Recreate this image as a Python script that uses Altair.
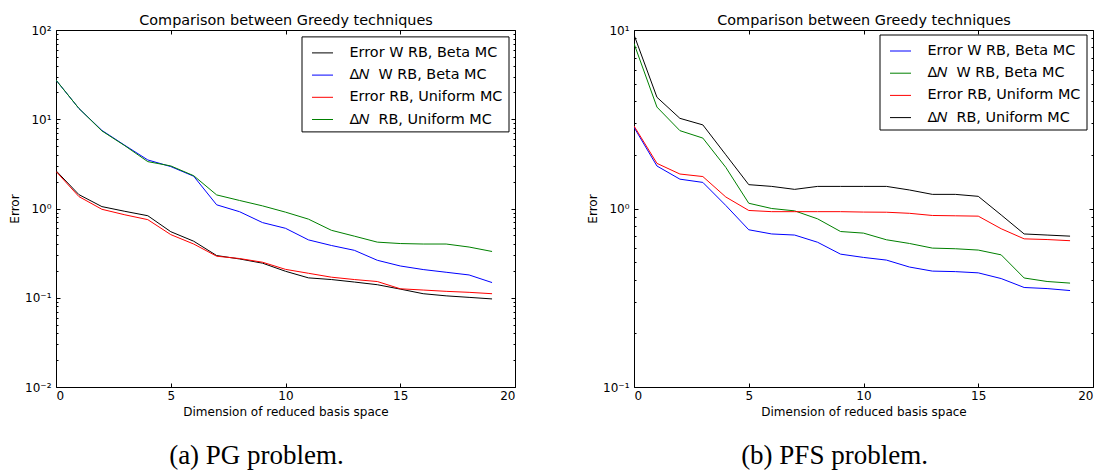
import altair as alt
import pandas as pd

dims = list(range(20))

# (a) PG problem
pg_names = ["Error W RB, Beta MC", "Δ𝑁\u00a0 W RB, Beta MC", "Error RB, Uniform MC", "Δ𝑁\u00a0 RB, Uniform MC"]
pg_colors = ["#000000", "#0000ff", "#ff0000", "#008000"]
pg_err_w_beta = [2.65, 1.43, 1.05, 0.93, 0.83, 0.55, 0.43, 0.297, 0.272, 0.244,
                 0.198, 0.167, 0.16, 0.15, 0.14, 0.125, 0.111, 0.105, 0.101, 0.097]
pg_delta_w_beta = [27.5, 13.2, 7.5, 5.1, 3.5, 2.95, 2.3, 1.1, 0.92, 0.695,
                   0.60, 0.445, 0.385, 0.34, 0.263, 0.227, 0.207, 0.193, 0.18, 0.148]
pg_err_uniform = [2.6, 1.36, 0.98, 0.85, 0.75, 0.51, 0.40, 0.292, 0.275, 0.25,
                  0.208, 0.188, 0.17, 0.16, 0.152, 0.126, 0.122, 0.118, 0.115, 0.111]
pg_delta_uniform = [27.5, 13.2, 7.4, 5.05, 3.35, 3.0, 2.33, 1.42, 1.23, 1.07,
                    0.91, 0.76, 0.57, 0.49, 0.42, 0.405, 0.40, 0.40, 0.37, 0.33]

# (b) PFS problem
pfs_names = ["Error W RB, Beta MC", "Δ𝑁\u00a0 W RB, Beta MC", "Error RB, Uniform MC", "Δ𝑁\u00a0 RB, Uniform MC"]
pfs_colors = ["#0000ff", "#008000", "#ff0000", "#000000"]
pfs_err_w_beta = [2.85, 1.73, 1.46, 1.40, 1.04, 0.76, 0.72, 0.71, 0.647, 0.555,
                  0.532, 0.514, 0.47, 0.446, 0.443, 0.436, 0.405, 0.361, 0.356, 0.347]
pfs_delta_w_beta = [8.4, 3.7, 2.73, 2.48, 1.70, 1.07, 1.0, 0.97, 0.875, 0.743,
                    0.728, 0.668, 0.637, 0.60, 0.595, 0.585, 0.55, 0.408, 0.39, 0.382]
pfs_err_uniform = [2.9, 1.79, 1.56, 1.51, 1.16, 0.975, 0.96, 0.96, 0.96, 0.96,
                   0.955, 0.953, 0.94, 0.914, 0.91, 0.906, 0.77, 0.676, 0.67, 0.66]
pfs_delta_uniform = [9.4, 4.2, 3.2, 2.94, 2.0, 1.36, 1.33, 1.28, 1.33, 1.33,
                     1.33, 1.33, 1.27, 1.2, 1.2, 1.17, 0.92, 0.72, 0.71, 0.70]

x_ticks = [0, 5, 10, 15, 20]
title_text = "Comparison between Greedy techniques"
x_title = "Dimension of reduced basis space"
y_title = "Error"

W, H = 459, 357
FONT = "DejaVu Sans"

LABEL_EXPR = ("datum.value >= 99 ? '10²' : datum.value >= 9 ? '10¹' : "
              "datum.value >= 0.9 ? '10⁰' : datum.value >= 0.09 ? '10⁻¹' : '10⁻²'")
MAJOR_TEST = "abs(log(datum.value)/LN10 - round(log(datum.value)/LN10)) < 1e-6"
TICK_SIZE = {"condition": {"test": MAJOR_TEST, "value": 4}, "value": 2}


def make_df(names, series):
    rows = []
    for name, vals in zip(names, series):
        for d, v in zip(dims, vals):
            rows.append({"dim": d, "err": v, "series": name})
    return pd.DataFrame(rows)


def panel(df, names, colors, exps, caption, cap_dx, legend_y):
    majors = [10.0 ** e for e in exps]
    minors = [m * 10.0 ** e for e in exps[:-1] for m in range(2, 10)]
    xs = alt.Scale(domain=[0, 20], nice=False, zero=False)
    ys = alt.Scale(type="log", domain=[majors[0], majors[-1]], nice=False)
    base = alt.Chart(df)

    lines = base.mark_line(strokeWidth=1, clip=True).encode(
        x=alt.X("dim:Q", scale=xs, axis=alt.Axis(
            orient="bottom", values=x_ticks, ticks=False, domain=False, grid=False,
            title=x_title, labelPadding=3, titlePadding=5)),
        y=alt.Y("err:Q", scale=ys, axis=alt.Axis(
            orient="left", values=majors, labelExpr=LABEL_EXPR, ticks=False,
            domain=False, grid=False, title=y_title, labelPadding=5, titlePadding=3)),
        color=alt.Color("series:N", sort=names,
                        scale=alt.Scale(domain=names, range=colors),
                        legend=alt.Legend(title=None, orient="none", legendX=245.5,
                                          legendY=legend_y)),
    )

    ticks_a = base.mark_point(opacity=0).encode(
        x=alt.X("dim:Q", scale=xs, axis=alt.Axis(
            orient="top", offset=-H, values=x_ticks, labels=False, domain=False,
            grid=False, title=None, tickSize=4)),
        y=alt.Y("err:Q", scale=ys, axis=alt.Axis(
            orient="right", offset=-W, values=majors + minors, labels=False,
            domain=False, grid=False, title=None, tickSize=TICK_SIZE)),
    )
    ticks_b = base.mark_point(opacity=0).encode(
        x=alt.X("dim:Q", scale=xs, axis=alt.Axis(
            orient="bottom", offset=-H, values=x_ticks, labels=False, domain=False,
            grid=False, title=None, tickSize=4)),
        y=alt.Y("err:Q", scale=ys, axis=alt.Axis(
            orient="left", offset=-W, values=majors + minors, labels=False,
            domain=False, grid=False, title=None, tickSize=TICK_SIZE)),
    )
    title_layer = base.mark_point(opacity=0).encode(
        x=alt.X("dim:Q", scale=xs, axis=alt.Axis(
            orient="top", ticks=False, labels=False, domain=False, grid=False,
            title=title_text, titleFontSize=14.4, titlePadding=3)),
        y=alt.Y("err:Q", scale=ys, axis=None),
    )

    return alt.layer(lines, ticks_a, ticks_b, title_layer).resolve_axis(
        x="independent", y="independent"
    ).properties(
        width=W, height=H,
        title=alt.TitleParams(caption, orient="bottom", font="Liberation Serif",
                              fontSize=27, fontWeight="normal", offset=26, dx=cap_dx,
                              color="black"),
    )


df_a = make_df(pg_names, [pg_err_w_beta, pg_delta_w_beta, pg_err_uniform, pg_delta_uniform])
df_b = make_df(pfs_names, [pfs_err_w_beta, pfs_delta_w_beta, pfs_err_uniform, pfs_delta_uniform])

pa = panel(df_a, pg_names, pg_colors, [-2, -1, 0, 1, 2], "(a) PG problem.", -29, 6.4)
pb = panel(df_b, pfs_names, pfs_colors, [-1, 0, 1], "(b) PFS problem.", -29, 4.5)

chart = alt.hconcat(pa, pb, spacing=70).resolve_scale(
    color="independent"
).properties(
    padding={"left": 0, "top": 3, "right": 0, "bottom": 0}
).configure_view(
    stroke="black", strokeWidth=1
).configure_axis(
    labelFont=FONT, titleFont=FONT, labelFontSize=12, titleFontSize=12,
    labelColor="black", titleColor="black", tickColor="black", tickWidth=1,
    titleFontWeight="normal",
).configure_legend(
    strokeColor="black", fillColor="white", padding=5.5, cornerRadius=0,
    symbolType="stroke", symbolStrokeWidth=1, symbolSize=441, symbolOffset=4.5,
    labelFont=FONT, labelFontSize=14.4, labelColor="black", labelOffset=16,
    rowPadding=4.2, strokeWidth=1,
)

chart.save("out.html", embed_options={"renderer": "svg", "actions": False})
